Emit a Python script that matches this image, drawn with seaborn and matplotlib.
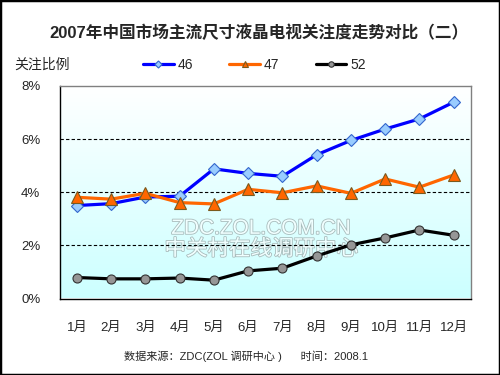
import numpy as np
import pandas as pd
import seaborn as sns
import matplotlib.pyplot as plt
import matplotlib.patheffects as pe
from matplotlib.patches import Rectangle
from matplotlib.ticker import FixedLocator

months = ["1月", "2月", "3月", "4月", "5月", "6月", "7月", "8月", "9月", "10月", "11月", "12月"]
s46 = [3.50, 3.57, 3.82, 3.85, 4.88, 4.71, 4.60, 5.41, 5.95, 6.38, 6.76, 7.39]
s47 = [3.81, 3.74, 3.96, 3.61, 3.56, 4.11, 3.98, 4.24, 3.96, 4.50, 4.19, 4.65]
s52 = [0.79, 0.74, 0.74, 0.77, 0.69, 1.04, 1.14, 1.60, 2.02, 2.28, 2.58, 2.38]
yticks = [0, 2, 4, 6, 8]

sns.set_style("white")
plt.rcParams["font.family"] = ["Liberation Sans", "Noto Sans CJK SC"]

df = pd.DataFrame({"month": months, "46": s46, "47": s47, "52": s52})

fig = plt.figure(figsize=(5, 3.75), dpi=100)
ax = fig.add_axes([0.1194, 0.204, 0.8222, 0.5667])

# gradient background, white at top to pale cyan at bottom
grad = np.linspace(0, 1, 256).reshape(-1, 1)
from matplotlib.colors import LinearSegmentedColormap
cmap = LinearSegmentedColormap.from_list("bg", ["#ccffff", "#ffffff"])
ax.imshow(grad, extent=(0, 1, 0, 1), transform=ax.transAxes, aspect="auto",
          cmap=cmap, origin="lower", zorder=0)

# watermark
wm = [pe.withStroke(linewidth=1.2, foreground="#a9bcbc")]
ax.text(0.49, 0.33, "ZDC.ZOL.COM.CN", transform=ax.transAxes, ha="center", va="center",
        fontsize=15, color="#f0ffff", path_effects=wm, zorder=1)
ax.text(0.49, 0.23, "中关村在线调研中心", transform=ax.transAxes, ha="center", va="center",
        fontsize=15.5, color="#f0ffff", path_effects=wm, zorder=1)

for y in yticks[1:-1]:
    ax.axhline(y, color="black", lw=0.8, ls=(0, (3, 2)), zorder=2)

sns.lineplot(data=df, x="month", y="46", ax=ax, color="#0000ff", lw=2.3, marker="D",
             markersize=6, markerfacecolor="#99ccff", markeredgecolor="#3366cc",
             markeredgewidth=0.8, label="46", zorder=3)
sns.lineplot(data=df, x="month", y="47", ax=ax, color="#ff6600", lw=2.3, marker="^",
             markersize=8, markerfacecolor="#ff6600", markeredgecolor="#7a5a1e",
             markeredgewidth=0.8, label="47", zorder=3)
sns.lineplot(data=df, x="month", y="52", ax=ax, color="black", lw=2.3, marker="o",
             markersize=6.5, markerfacecolor="#969696", markeredgecolor="#333333",
             markeredgewidth=0.8, label="52", zorder=3)

ax.set_xlim(-0.5, 11.5)
ax.set_ylim(0, 8)
ax.set_yticks(yticks)
ax.set_yticklabels([f"{v}%" for v in yticks], fontsize=9.5)
ax.set_xlabel("")
ax.set_ylabel("")
ax.tick_params(axis="y", length=0, pad=14)
ax.tick_params(axis="x", which="major", length=0, pad=17, labelsize=9.5)
ax.xaxis.set_minor_locator(FixedLocator(np.arange(0.5, 11, 1)))
ax.tick_params(axis="x", which="minor", direction="in", length=4, width=0.8, color="black")

for side in ["top", "right"]:
    ax.spines[side].set_color("#808080")
    ax.spines[side].set_linewidth(1)
for side in ["left", "bottom"]:
    ax.spines[side].set_color("black")
    ax.spines[side].set_linewidth(1)

ax.get_legend().remove()
handles, labels = ax.get_legend_handles_labels()
leg = fig.legend(handles, labels, loc="center left", bbox_to_anchor=(143 / 500, 1 - 65 / 375),
                 ncol=3, frameon=False, fontsize=10, handlelength=2.2, handletextpad=0.3,
                 columnspacing=2.6, borderpad=0, borderaxespad=0, markerscale=0.6)

fig.text(259 / 500, 1 - 33 / 375, "2007年中国市场主流尺寸液晶电视关注度走势对比（二）",
         ha="center", va="center", fontsize=12, fontweight="bold")
fig.text(14 / 500, 1 - 65 / 375, "关注比例", ha="left", va="center", fontsize=10)
fig.text(246 / 500, 1 - 356 / 375, "数据来源：ZDC(ZOL 调研中心 )      时间：2008.1",
         ha="center", va="center", fontsize=8)

fig.patches.append(Rectangle((0, 0), 1, 1, transform=fig.transFigure, fill=False,
                             edgecolor="black", linewidth=2.5, zorder=10))

fig.savefig("out.png", dpi=100)
